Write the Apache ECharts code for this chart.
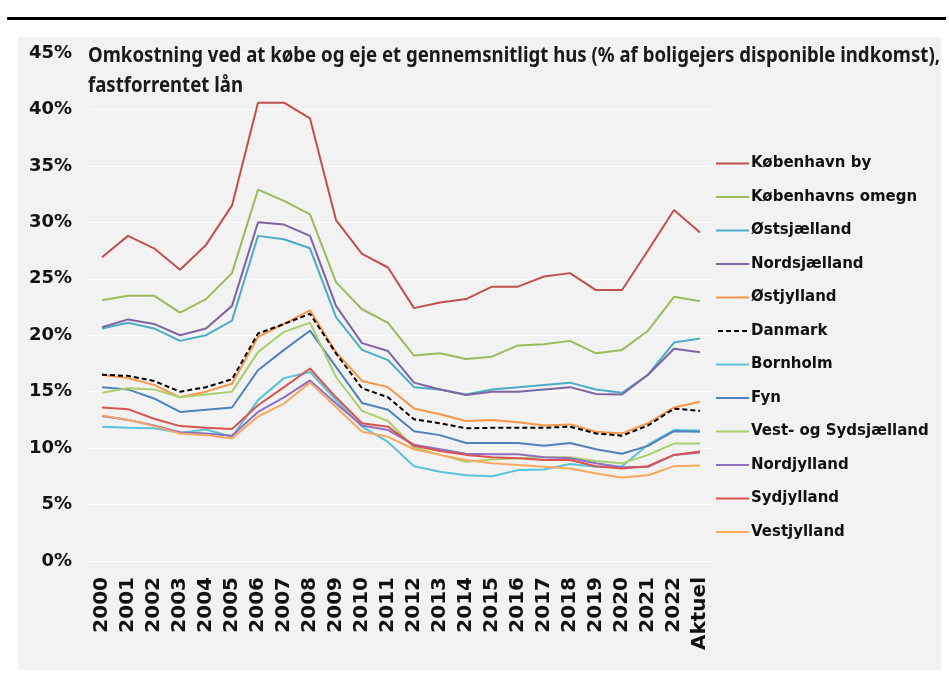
<!DOCTYPE html>
<html>
<head>
<meta charset="utf-8">
<script src="https://cdn.jsdelivr.net/npm/echarts@6/dist/echarts.min.js"></script>
<style>
  html, body { margin: 0; padding: 0; background: #ffffff; }
  #main { width: 949px; height: 687px; }
</style>
</head>
<body>
<div id="main"></div>
<script>
// kategorier (år)
var years = ['2000','2001','2002','2003','2004','2005','2006','2007','2008','2009','2010','2011',
             '2012','2013','2014','2015','2016','2017','2018','2019','2020','2021','2022','Aktuel']

// serier, % af disponibel indkomst
var kbhBy        = [26.9, 28.8, 27.7, 25.8, 28.0, 31.5, 40.6, 40.6, 39.2, 30.2, 27.2, 26.0, 22.4, 22.9, 23.2, 24.3, 24.3, 25.2, 25.5, 24.0, 24.0, 27.5, 31.1, 29.1]
var kbhOmegn     = [23.1, 23.5, 23.5, 22.0, 23.2, 25.5, 32.9, 31.9, 30.7, 24.7, 22.3, 21.1, 18.2, 18.4, 17.9, 18.1, 19.1, 19.2, 19.5, 18.4, 18.7, 20.4, 23.4, 23.0]
var ostsjaelland = [20.6, 21.1, 20.6, 19.5, 20.0, 21.3, 28.8, 28.5, 27.7, 21.6, 18.7, 17.8, 15.4, 15.2, 14.75, 15.2, 15.4, 15.6, 15.8, 15.2, 14.9, 16.5, 19.35, 19.7]
var nordsjaelland= [20.7, 21.4, 21.0, 20.0, 20.6, 22.6, 30.0, 29.8, 28.8, 22.6, 19.3, 18.6, 15.8, 15.2, 14.7, 15.0, 15.0, 15.2, 15.4, 14.8, 14.75, 16.5, 18.8, 18.5]
var ostjylland   = [16.5, 16.2, 15.6, 14.5, 15.0, 15.7, 19.85, 21.0, 22.2, 18.5, 15.95, 15.4, 13.5, 13.0, 12.4, 12.5, 12.3, 12.0, 12.1, 11.45, 11.3, 12.2, 13.6, 14.1]
var danmark      = [16.5, 16.4, 15.95, 15.0, 15.4, 16.1, 20.15, 21.0, 21.9, 18.4, 15.3, 14.5, 12.55, 12.2, 11.75, 11.8, 11.8, 11.8, 11.9, 11.3, 11.1, 12.0, 13.5, 13.3]
var bornholm     = [11.9, 11.8, 11.75, 11.35, 11.65, 11.0, 14.25, 16.2, 16.75, 14.25, 11.9, 10.55, 8.4, 7.9, 7.6, 7.5, 8.05, 8.1, 8.6, 8.35, 8.4, 10.3, 11.6, 11.55]
var fyn          = [15.4, 15.2, 14.4, 13.2, 13.4, 13.6, 16.9, 18.7, 20.4, 17.2, 14.0, 13.4, 11.5, 11.15, 10.45, 10.45, 10.45, 10.2, 10.45, 9.9, 9.5, 10.2, 11.5, 11.45]
var vestSyd      = [14.9, 15.3, 15.2, 14.5, 14.75, 15.0, 18.5, 20.3, 21.1, 16.3, 13.3, 12.4, 10.05, 9.4, 8.8, 9.0, 9.1, 9.2, 9.2, 8.85, 8.65, 9.4, 10.4, 10.4]
var nordjylland  = [12.85, 12.5, 12.0, 11.4, 11.3, 11.1, 13.2, 14.5, 16.0, 13.95, 12.0, 11.6, 10.3, 9.9, 9.5, 9.45, 9.45, 9.2, 9.1, 8.65, 8.3, 8.35, 9.4, 9.6]
var sydjylland   = [13.6, 13.45, 12.6, 11.95, 11.8, 11.7, 13.8, 15.4, 17.05, 14.5, 12.2, 11.9, 10.2, 9.75, 9.4, 9.2, 9.1, 8.95, 8.95, 8.4, 8.2, 8.4, 9.4, 9.7]
var vestjylland  = [12.9, 12.5, 11.95, 11.3, 11.15, 10.85, 12.8, 13.95, 15.8, 13.65, 11.45, 11.0, 9.9, 9.4, 8.95, 8.65, 8.5, 8.35, 8.2, 7.75, 7.4, 7.6, 8.4, 8.45]

var names  = ['København by','Københavns omegn','Østsjælland','Nordsjælland','Østjylland','Danmark',
              'Bornholm','Fyn','Vest- og Sydsjælland','Nordjylland','Sydjylland','Vestjylland']
var values = [kbhBy, kbhOmegn, ostsjaelland, nordsjaelland, ostjylland, danmark,
              bornholm, fyn, vestSyd, nordjylland, sydjylland, vestjylland]
var colors = ['#c0504d','#9bbb59','#4bacc6','#8064a2','#f79646','#000000',
              '#5ac3dc','#4f81bd','#a9d06a','#9070c0','#d9534f','#f9a860']

var titleLine1 = 'Omkostning ved at købe og eje et gennemsnitligt hus (% af boligejers disponible indkomst),'
var titleLine2 = 'fastforrentet lån'

var yTicks = 5

// titlen skal være smal (Calibri-agtig), så vi klemmer den vandret
var titleFont = 'bold 22px "Noto Sans", "DejaVu Sans", sans-serif'
var ctx = document.createElement('canvas').getContext('2d')
ctx.font = titleFont
var titleScale = 852 / ctx.measureText(titleLine1).width

// stiplet ikon til Danmark i legenden
var dashIcon = 'path://M0,0h5v2h-5z M8,0h5v2h-5z M16,0h5v2h-5z M24,0h5v2h-5z'

var myChart = echarts.init(document.getElementById('main'))

// byg serierne og legenden
var series = []
var legendData = []
for (var i = 0; i < names.length; i++) {
  var isDk = names[i] == 'Danmark'
  series.push({
    name: names[i],
    type: 'line',
    data: values[i],
    symbol: 'none',
    z: isDk ? 5 : 2,
    lineStyle: {
      color: colors[i],
      width: 2,
      type: isDk ? [5, 3] : 'solid'
    },
    itemStyle: { color: colors[i] }
  })
  legendData.push(isDk ? { name: names[i], icon: dashIcon } : { name: names[i] })
}

myChart.setOption({
  backgroundColor: '#ffffff',
  animation: false,
  graphic: [
    // grå baggrund
    { type: 'rect', left: 18, top: 37, z: -10, shape: { width: 923, height: 633 }, style: { fill: '#f2f2f2' } },
    // sort streg øverst
    { type: 'rect', left: 7, top: 17, z: -10, shape: { width: 939, height: 3 }, style: { fill: '#000000' } },
    // titel
    {
      type: 'text',
      x: 88,
      y: 41,
      scaleX: titleScale,
      z: 10,
      style: {
        text: titleLine1 + '\n' + titleLine2,
        font: titleFont,
        lineHeight: 30,
        fill: '#1a1a1a',
        verticalAlign: 'top'
      }
    }
  ],
  legend: {
    orient: 'vertical',
    left: 711,
    top: 151,
    icon: 'rect',
    itemWidth: 33,
    itemHeight: 2,
    itemGap: 18.5,
    data: legendData,
    textStyle: {
      fontFamily: 'DejaVu Sans',
      fontWeight: 'bold',
      fontSize: 15,
      lineHeight: 15,
      color: '#111111',
      padding: [0, 0, 0, -3]
    }
  },
  grid: {
    left: 89,
    right: 236,
    top: 53,
    bottom: 126
  },
  xAxis: {
    type: 'category',
    data: years,
    boundaryGap: true,
    axisLine: { show: false },
    axisTick: { show: false },
    axisLabel: {
      rotate: 90,
      margin: 16,
      interval: 0,
      fontFamily: 'DejaVu Sans',
      fontWeight: 'bold',
      fontSize: 20,
      color: '#111111'
    }
  },
  yAxis: {
    type: 'value',
    min: 0,
    max: 45,
    interval: yTicks,
    axisLine: { show: false },
    axisTick: { show: false },
    splitLine: { lineStyle: { color: '#ffffff', width: 1 } },
    axisLabel: {
      formatter: '{value}%',
      margin: 17,
      fontFamily: 'DejaVu Sans',
      fontWeight: 'bold',
      fontSize: 18,
      color: '#111111'
    }
  },
  series: series
})
</script>
</body>
</html>
